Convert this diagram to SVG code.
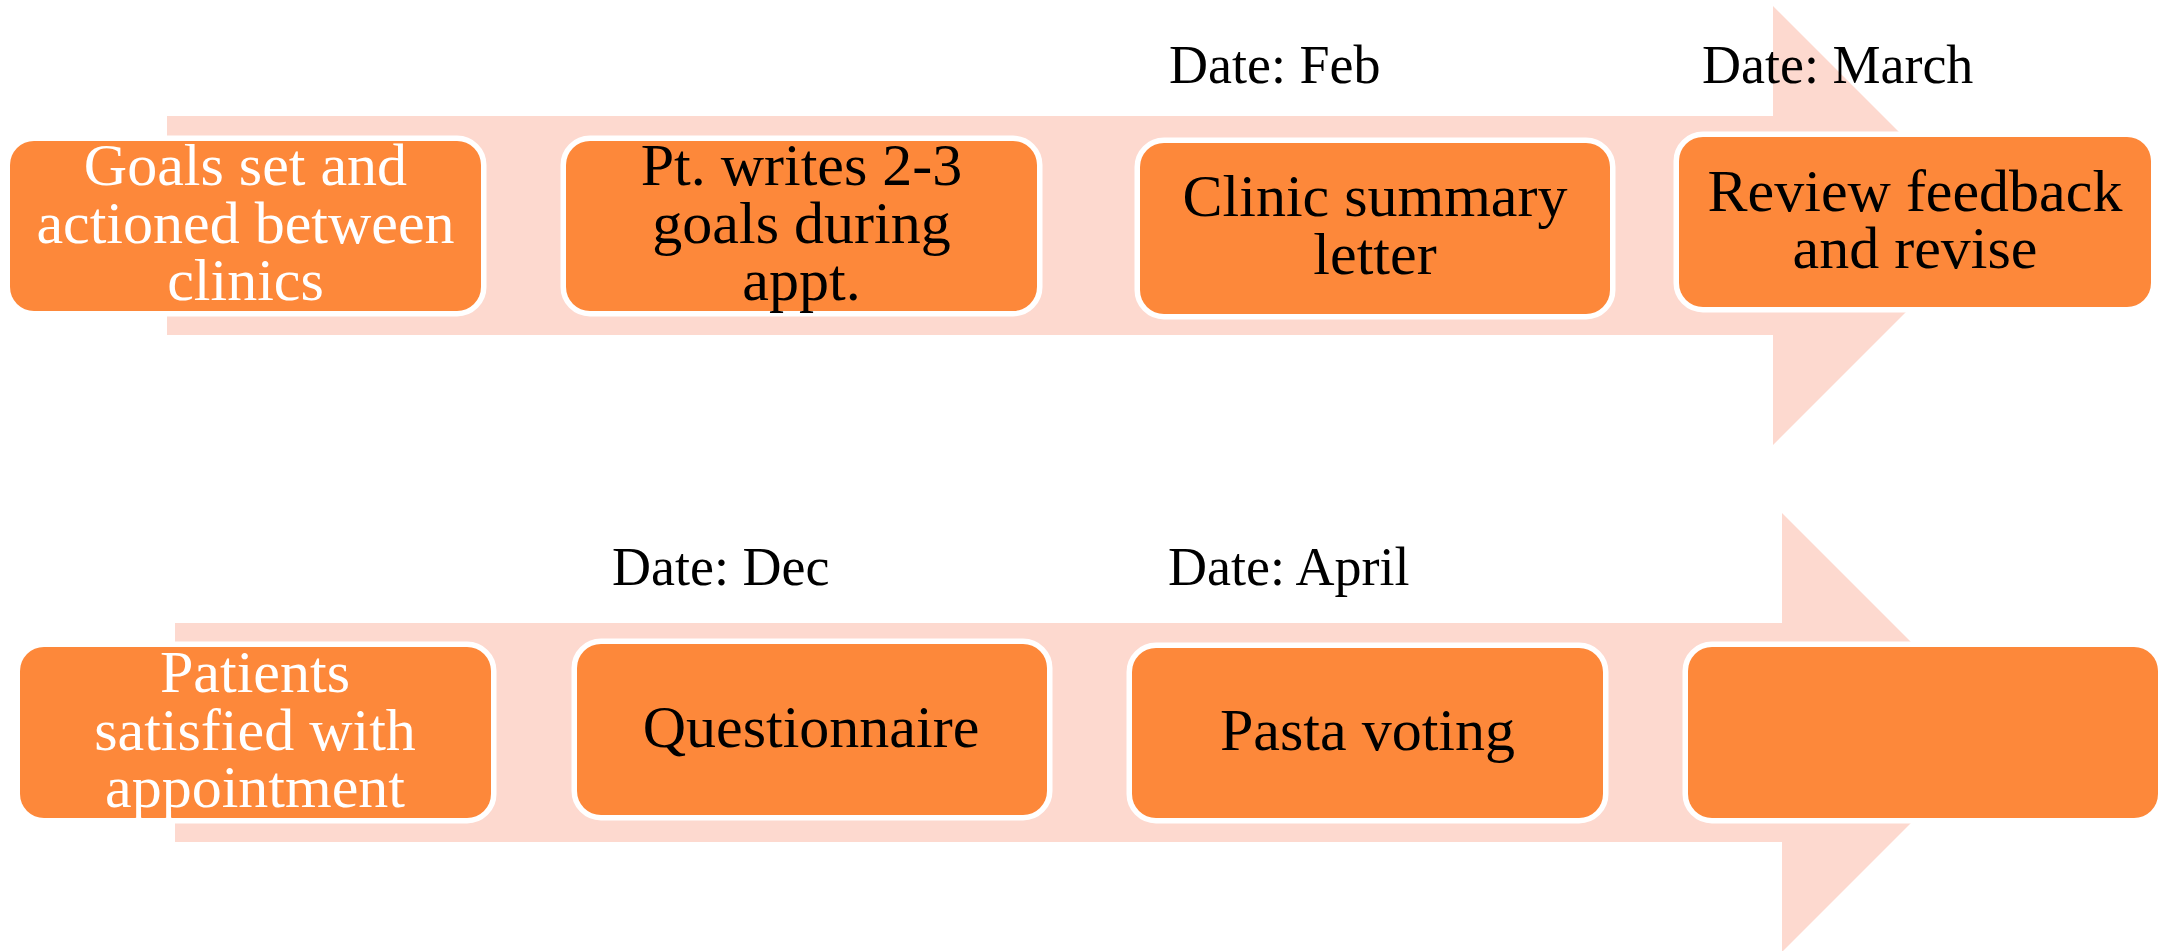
<svg xmlns="http://www.w3.org/2000/svg" width="2159" height="951" viewBox="0 0 2159 951">
<style>
.arrow{fill:#FDD9CF;stroke:none}
.box{fill:#FD883A;stroke:#FFFFFF;stroke-width:11;paint-order:stroke}
.t{font-family:"Liberation Serif","Times New Roman",serif;font-size:60px;text-anchor:middle;fill:#000000}
.w{fill:#FFFFFF}
.date{font-family:"Liberation Serif","Times New Roman",serif;font-size:54px;fill:#000000}
</style>
<rect width="2159" height="951" fill="#FFFFFF"/>
<g id="connectors">
<polygon class="arrow" points="167,116 1773,116 1773,6 1992.5,225.5 1773,445 1773,335 167,335"/>
<polygon class="arrow" points="175,623 1782,623 1782,513 2001.5,732.5 1782,952 1782,842 175,842"/>
</g>
<g id="date-feb"><text class="date" x="1169" y="83">Date: Feb</text></g>
<g id="date-march"><text class="date" x="1702" y="83">Date: March</text></g>
<g id="date-dec"><text class="date" x="612" y="585">Date: Dec</text></g>
<g id="date-april"><text class="date" x="1168" y="585">Date: April</text></g>
<g id="node-goals-set">
<rect class="box" x="10" y="141" width="471" height="170" rx="24"/>
<text class="t w" x="245.5" y="185">Goals set and</text>
<text class="t w" x="245.5" y="243">actioned between</text>
<text class="t w" x="245.5" y="300">clinics</text>
</g>
<g id="node-pt-writes">
<rect class="box" x="566" y="141" width="471" height="170" rx="24"/>
<text class="t" x="801.5" y="185">Pt. writes 2-3</text>
<text class="t" x="801.5" y="243">goals during</text>
<text class="t" x="801.5" y="300">appt.</text>
</g>
<g id="node-clinic-summary">
<rect class="box" x="1140" y="143" width="470" height="171" rx="24"/>
<text class="t" x="1375" y="216">Clinic summary</text>
<text class="t" x="1375" y="274">letter</text>
</g>
<g id="node-review">
<rect class="box" x="1679" y="137" width="472" height="170" rx="24"/>
<text class="t" x="1915" y="211">Review feedback</text>
<text class="t" x="1915" y="268">and revise</text>
</g>
<g id="node-patients-satisfied">
<rect class="box" x="20" y="647" width="471" height="171" rx="24"/>
<text class="t w" x="255" y="692">Patients</text>
<text class="t w" x="255" y="750">satisfied with</text>
<text class="t w" x="255" y="807">appointment</text>
</g>
<g id="node-questionnaire">
<rect class="box" x="577" y="644" width="470" height="171" rx="24"/>
<text class="t" x="811" y="747">Questionnaire</text>
</g>
<g id="node-pasta-voting">
<rect class="box" x="1132" y="648" width="471" height="170" rx="24"/>
<text class="t" x="1367.5" y="750">Pasta voting</text>
</g>
<g id="node-empty">
<rect class="box" x="1688" y="647" width="470" height="171" rx="24"/>
</g>
</svg>
